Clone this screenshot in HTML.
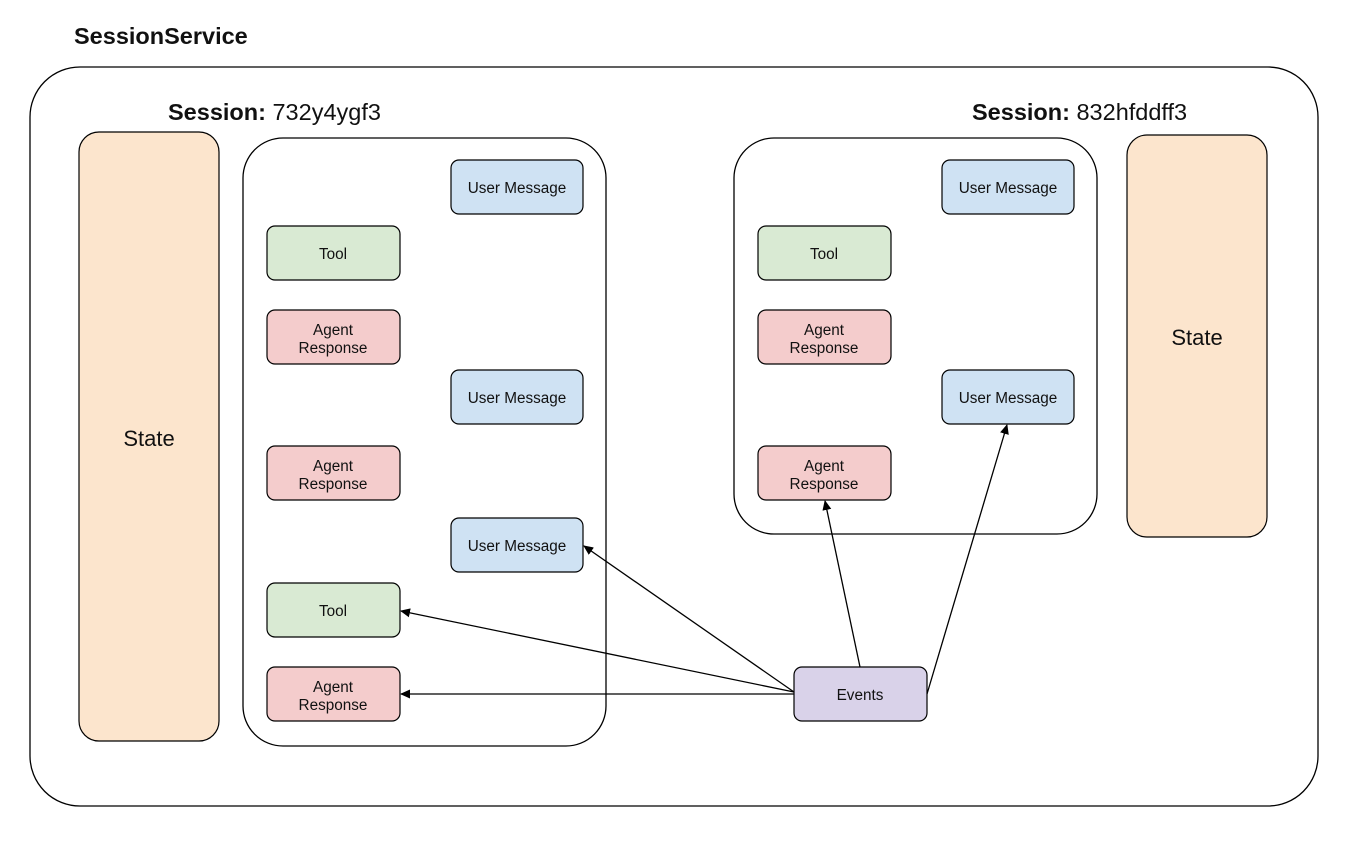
<!DOCTYPE html>
<html><head><style>body{margin:0;background:#fff}svg{display:block}text{font-family:"Liberation Sans",sans-serif;fill:#111}</style></head><body>
<svg width="1372" height="844" viewBox="0 0 1372 844" xmlns="http://www.w3.org/2000/svg">
<defs><marker id="a" markerWidth="10" markerHeight="10" refX="9" refY="5" orient="auto" markerUnits="userSpaceOnUse"><path d="M0,0.5 L10,5 L0,9.5 Z" fill="#000"/></marker></defs>
<text x="74" y="44" font-size="23.5" font-weight="bold">SessionService</text>
<rect x="30" y="67" width="1288" height="739" rx="50" fill="#fff" stroke="#000" stroke-width="1.3"/>
<text x="168" y="120" font-size="23.5"><tspan font-weight="bold">Session:</tspan> 732y4ygf3</text>
<text x="972" y="120" font-size="23.5"><tspan font-weight="bold">Session:</tspan> 832hfddff3</text>
<rect x="79" y="132" width="140" height="609" rx="20" fill="#fce5cd" stroke="#000" stroke-width="1.2"/>
<text x="149" y="446" font-size="22" text-anchor="middle">State</text>
<rect x="1127" y="135" width="140" height="402" rx="20" fill="#fce5cd" stroke="#000" stroke-width="1.2"/>
<text x="1197" y="345" font-size="22" text-anchor="middle">State</text>
<rect x="243" y="138" width="363" height="608" rx="40" fill="none" stroke="#000" stroke-width="1.3"/>
<rect x="734" y="138" width="363" height="396" rx="40" fill="none" stroke="#000" stroke-width="1.3"/>
<g stroke="#000" stroke-width="1.2">
<g id="s">
<rect x="451" y="160" width="132" height="54" rx="8" fill="#cfe2f3"/>
<rect x="267" y="226" width="133" height="54" rx="8" fill="#d9ead3"/>
<rect x="267" y="310" width="133" height="54" rx="8" fill="#f4cccc"/>
<rect x="451" y="370" width="132" height="54" rx="8" fill="#cfe2f3"/>
<rect x="267" y="446" width="133" height="54" rx="8" fill="#f4cccc"/>
</g>
<rect x="451" y="518" width="132" height="54" rx="8" fill="#cfe2f3"/>
<rect x="267" y="583" width="133" height="54" rx="8" fill="#d9ead3"/>
<rect x="267" y="667" width="133" height="54" rx="8" fill="#f4cccc"/>
<use href="#s" x="491"/>
<rect x="794" y="667" width="133" height="54" rx="8" fill="#d9d2e9"/>
</g>
<g font-size="15.3" text-anchor="middle">
<text x="517" y="193">User Message</text><text x="333" y="259">Tool</text>
<text x="333" y="335">Agent</text><text x="333" y="353">Response</text>
<text x="517" y="403">User Message</text>
<text x="333" y="471">Agent</text><text x="333" y="489">Response</text>
<text x="517" y="551">User Message</text><text x="333" y="616">Tool</text>
<text x="333" y="692">Agent</text><text x="333" y="710">Response</text>
<text x="1008" y="193">User Message</text><text x="824" y="259">Tool</text>
<text x="824" y="335">Agent</text><text x="824" y="353">Response</text>
<text x="1008" y="403">User Message</text>
<text x="824" y="471">Agent</text><text x="824" y="489">Response</text>
<text x="860" y="700">Events</text>
</g>
<g stroke="#000" stroke-width="1.3" fill="none" marker-end="url(#a)">
<line x1="794" y1="694" x2="401" y2="694"/>
<line x1="794" y1="692" x2="401" y2="611"/>
<line x1="794" y1="692" x2="584" y2="546"/>
<line x1="860" y1="667" x2="825" y2="501"/>
<line x1="927" y1="694" x2="1007" y2="425"/>
</g>
</svg>
</body></html>
